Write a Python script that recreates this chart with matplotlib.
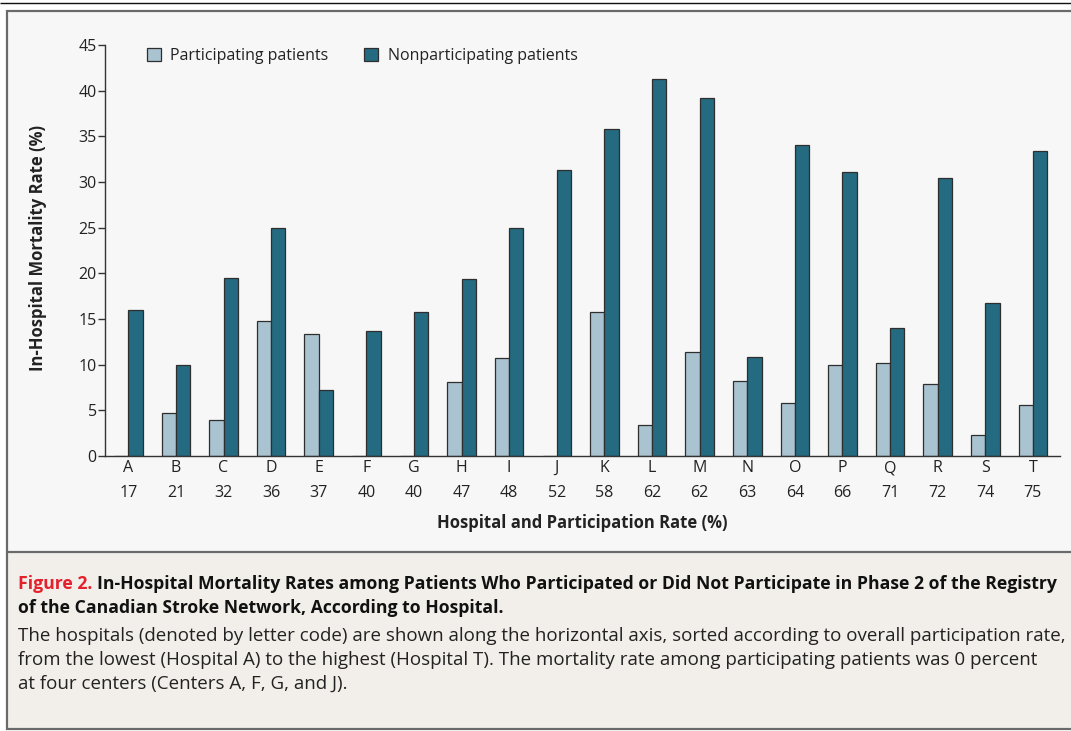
import matplotlib
matplotlib.use("Agg")
import matplotlib.pyplot as plt
from matplotlib.patches import Rectangle
from matplotlib.lines import Line2D
import matplotlib.transforms as mtransforms
import numpy as np

plt.rcParams['font.family'] = ['Open Sans', 'DejaVu Sans']

hospitals = ["A", "B", "C", "D", "E", "F", "G", "H", "I", "J",
             "K", "L", "M", "N", "O", "P", "Q", "R", "S", "T"]
participation = [17, 21, 32, 36, 37, 40, 40, 47, 48, 52,
                 58, 62, 62, 63, 64, 66, 71, 72, 74, 75]
participating = [0, 4.7, 3.9, 14.8, 13.4, 0, 0, 8.1, 10.7, 0,
                 15.8, 3.4, 11.4, 8.2, 5.8, 10.0, 10.2, 7.9, 2.3, 5.6]
nonparticipating = [16.0, 10.0, 19.5, 25.0, 7.2, 13.7, 15.8, 19.4, 25.0, 31.3,
                    35.8, 41.3, 39.2, 10.8, 34.0, 31.1, 14.0, 30.4, 16.7, 33.4]
yticks = [0, 5, 10, 15, 20, 25, 30, 35, 40, 45]

W, H = 1071, 731
fig = plt.figure(figsize=(W / 100, H / 100), dpi=100)
fig.patch.set_facecolor("white")

def px(x, y):
    return x / W, 1 - y / H

# backgrounds
fig.patches.append(Rectangle(px(6, 551), (1072 - 6) / W, (551 - 10) / H,
                             transform=fig.transFigure, facecolor="#f7f7f7",
                             edgecolor="none", zorder=-2))
fig.patches.append(Rectangle(px(6, 729), (1072 - 6) / W, (729 - 551) / H,
                             transform=fig.transFigure, facecolor="#f2eee9",
                             edgecolor="none", zorder=-2))
frame_c = "#6a6a6a"
for (x0, y0, x1, y1, lw, c) in [
        (0, 2.5, 1071, 2.5, 1.4, "#111111"),
        (6, 10.5, 1071, 10.5, 2.2, frame_c),
        (6.5, 10, 6.5, 729.5, 2.2, frame_c),
        (6, 729, 1071, 729, 2.2, frame_c),
        (6, 551.5, 1071, 551.5, 2.2, frame_c)]:
    a, b = px(x0, y0)
    c2, d = px(x1, y1)
    fig.add_artist(Line2D([a, c2], [b, d], transform=fig.transFigure,
                          color=c, lw=lw * 0.72, solid_capstyle="butt"))

# axes
ax_l, ax_r, ax_t, ax_b = 105, 1060, 45, 456
ax = fig.add_axes([ax_l / W, 1 - ax_b / H, (ax_r - ax_l) / W, (ax_b - ax_t) / H])
ax.set_zorder(3)
ax.set_facecolor("none")
x = np.arange(len(hospitals))
bw = 0.3
c_part = "#a9c3d1"
c_non = "#246a80"
edge = "#2e2e2e"
ax.bar(x - bw / 2, participating, width=bw, color=c_part, edgecolor=edge,
       linewidth=0.9, label="Participating patients", zorder=2)
ax.bar(x + bw / 2, nonparticipating, width=bw, color=c_non, edgecolor=edge,
       linewidth=0.9, label="Nonparticipating patients", zorder=2)
ax.set_xlim(-0.49, 19.57)
ax.set_ylim(0, 45)
for s in ["top", "right"]:
    ax.spines[s].set_visible(False)
for s in ["left", "bottom"]:
    ax.spines[s].set_color("#333333")
    ax.spines[s].set_linewidth(1.0)
fs_tick = 11.5
ax.set_yticks(yticks)
ax.set_yticklabels([str(v) for v in yticks], fontsize=fs_tick, color="#222222")
ax.tick_params(axis="y", length=5, width=1.0, color="#333333", pad=1)
ax.set_xticks([])

tr = mtransforms.blended_transform_factory(ax.transData, fig.transFigure)
for xi, h, p in zip(x, hospitals, participation):
    ax.text(xi, 1 - 468 / H, h, transform=tr, ha="center", va="center",
            fontsize=fs_tick, color="#222222")
    ax.text(xi, 1 - 493 / H, str(p), transform=tr, ha="center", va="center",
            fontsize=fs_tick, color="#222222")

fig.text((ax_l + ax_r) / 2 / W, 1 - 523 / H, "Hospital and Participation Rate (%)",
         ha="center", va="center", fontsize=12, fontweight="bold", color="#222222")
fig.text(38 / W, 1 - 248 / H, "In-Hospital Mortality Rate (%)", rotation=90,
         ha="center", va="center", fontsize=12, fontweight="bold", color="#222222")

leg = ax.legend(loc="upper left", bbox_to_anchor=(147 / W, 1 - 48 / H),
                bbox_transform=fig.transFigure, ncol=2, frameon=False,
                fontsize=fs_tick, handlelength=0.85, handleheight=0.85,
                handletextpad=0.6, columnspacing=2.25, borderpad=0,
                borderaxespad=0)
for t in leg.get_texts():
    t.set_color("#222222")

# caption
fig.canvas.draw()
renderer = fig.canvas.get_renderer()

def width(t):
    return t.get_window_extent(renderer).width

cap_fs = 12
title1 = "In-Hospital Mortality Rates among Patients Who Participated or Did Not Participate in Phase 2 of the Registry"
t1 = fig.text(18 / W, 1 - 584 / H, "Figure 2. ", fontsize=cap_fs, fontweight="bold",
              color="#e3202b", ha="left", va="center")
t2 = fig.text(0, 1 - 584 / H, title1, fontsize=cap_fs, fontweight="bold",
              color="#111111", ha="left", va="center")
tot = width(t1) + width(t2)
bold_fs = cap_fs * (1056 - 18) / tot
t1.set_fontsize(bold_fs)
t2.set_fontsize(bold_fs)
t2.set_x((18 + width(t1)) / W)
fig.text(18 / W, 1 - 608 / H, "of the Canadian Stroke Network, According to Hospital.",
         fontsize=bold_fs, fontweight="bold", color="#111111", ha="left", va="center")

body = ["The hospitals (denoted by letter code) are shown along the horizontal axis, sorted according to overall participation rate,",
        "from the lowest (Hospital A) to the highest (Hospital T). The mortality rate among participating patients was 0 percent",
        "at four centers (Centers A, F, G, and J)."]
bts = []
for i, line in enumerate(body):
    bts.append(fig.text(18 / W, 1 - (636 + 24 * i) / H, line, fontsize=cap_fs,
                        color="#222222", ha="left", va="center"))
body_fs = cap_fs * (1061 - 18) / width(bts[0])
for t in bts:
    t.set_fontsize(body_fs)

fig.savefig("out.png", dpi=100, facecolor=fig.get_facecolor())
